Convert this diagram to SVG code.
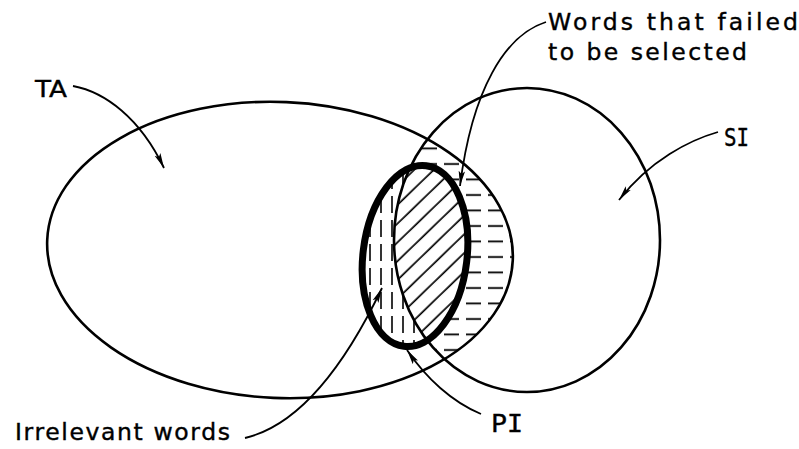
<svg xmlns="http://www.w3.org/2000/svg" width="799" height="449" viewBox="0 0 799 449">
<style>
.outline{fill:none;stroke:#000;stroke-width:2.6}
.thick{fill:none;stroke:#000;stroke-width:7}
.lead{fill:none;stroke:#000;stroke-width:1.8}
.lbl{font-family:"DejaVu Sans","Liberation Sans",sans-serif;font-size:23.5px;fill:#000;stroke:#000;stroke-width:0.4}
.mono{font-family:"DejaVu Sans Mono","Liberation Mono",monospace;font-size:25px;fill:#000;stroke:#000;stroke-width:0.4}
</style>
<defs>
<clipPath id="cTA"><ellipse cx="280" cy="250" rx="233" ry="148" transform="rotate(2.5 280 250)"/></clipPath>
<clipPath id="cSI"><ellipse cx="527" cy="240" rx="133" ry="152"/></clipPath>
<clipPath id="cPI"><ellipse cx="415" cy="256" rx="52" ry="91" transform="rotate(7 415 256)"/></clipPath>
<pattern id="pH" patternUnits="userSpaceOnUse" width="22" height="15.5" x="3" y="2">
<line x1="1" y1="7" x2="16" y2="7" stroke="#000" stroke-width="1.8"/>
</pattern>
<pattern id="pV" patternUnits="userSpaceOnUse" width="11" height="24" x="2" y="4">
<line x1="5" y1="0" x2="5" y2="17" stroke="#000" stroke-width="1.6"/>
</pattern>
<pattern id="pD" patternUnits="userSpaceOnUse" width="20" height="13.5" patternTransform="rotate(-44)">
<line x1="0" y1="5" x2="20" y2="5" stroke="#000" stroke-width="1.7"/>
</pattern>
<marker id="arr" markerUnits="userSpaceOnUse" markerWidth="16" markerHeight="8" refX="15" refY="4" orient="auto">
<path d="M0,0.8 L15,4 L0,7.2 L3,4 z" fill="#000"/>
</marker>
</defs>

<g id="shading">
<g clip-path="url(#cSI)"><g clip-path="url(#cTA)">
<rect x="380" y="80" width="160" height="320" fill="url(#pH)"/>
</g></g>
<ellipse cx="415" cy="256" rx="52" ry="91" transform="rotate(7 415 256)" fill="#fff"/>
<g clip-path="url(#cPI)">
<rect x="355" y="160" width="120" height="200" fill="url(#pV)"/>
<ellipse cx="527" cy="240" rx="133" ry="152" fill="#fff"/>
<g clip-path="url(#cSI)">
<rect x="355" y="160" width="120" height="200" fill="url(#pD)"/>
</g>
</g>
</g>

<g id="TA"><ellipse class="outline" cx="280" cy="250" rx="233" ry="148" transform="rotate(2.5 280 250)"/></g>
<g id="SI"><ellipse class="outline" cx="527" cy="240" rx="133" ry="152"/></g>
<g id="PI"><ellipse class="thick" cx="415" cy="256" rx="52" ry="91" transform="rotate(7 415 256)"/></g>

<g id="connectors">
<path class="lead" d="M73,86 C105,92 140,118 164,168" marker-end="url(#arr)"/>
<path class="lead" d="M718,132 C690,140 650,160 619,200" marker-end="url(#arr)"/>
<path class="lead" d="M546,22 C505,35 472,90 460,186" marker-end="url(#arr)"/>
<path class="lead" d="M245,438 C300,425 345,365 382,288" marker-end="url(#arr)"/>
<path class="lead" d="M481,414 C452,402 426,378 407,350" marker-end="url(#arr)"/>
</g>

<g id="labels">
<text class="lbl" x="35" y="97" textLength="32" lengthAdjust="spacingAndGlyphs">TA</text>
<text class="lbl" x="548" y="30" textLength="250" lengthAdjust="spacing">Words that failed</text>
<text class="lbl" x="548" y="60" textLength="199" lengthAdjust="spacing">to be selected</text>
<text class="mono" x="724" y="146" textLength="25" lengthAdjust="spacingAndGlyphs">SI</text>
<text class="mono" x="491" y="432" textLength="32" lengthAdjust="spacingAndGlyphs">PI</text>
<text class="lbl" x="15" y="440" textLength="215" lengthAdjust="spacing">Irrelevant words</text>
</g>
</svg>
